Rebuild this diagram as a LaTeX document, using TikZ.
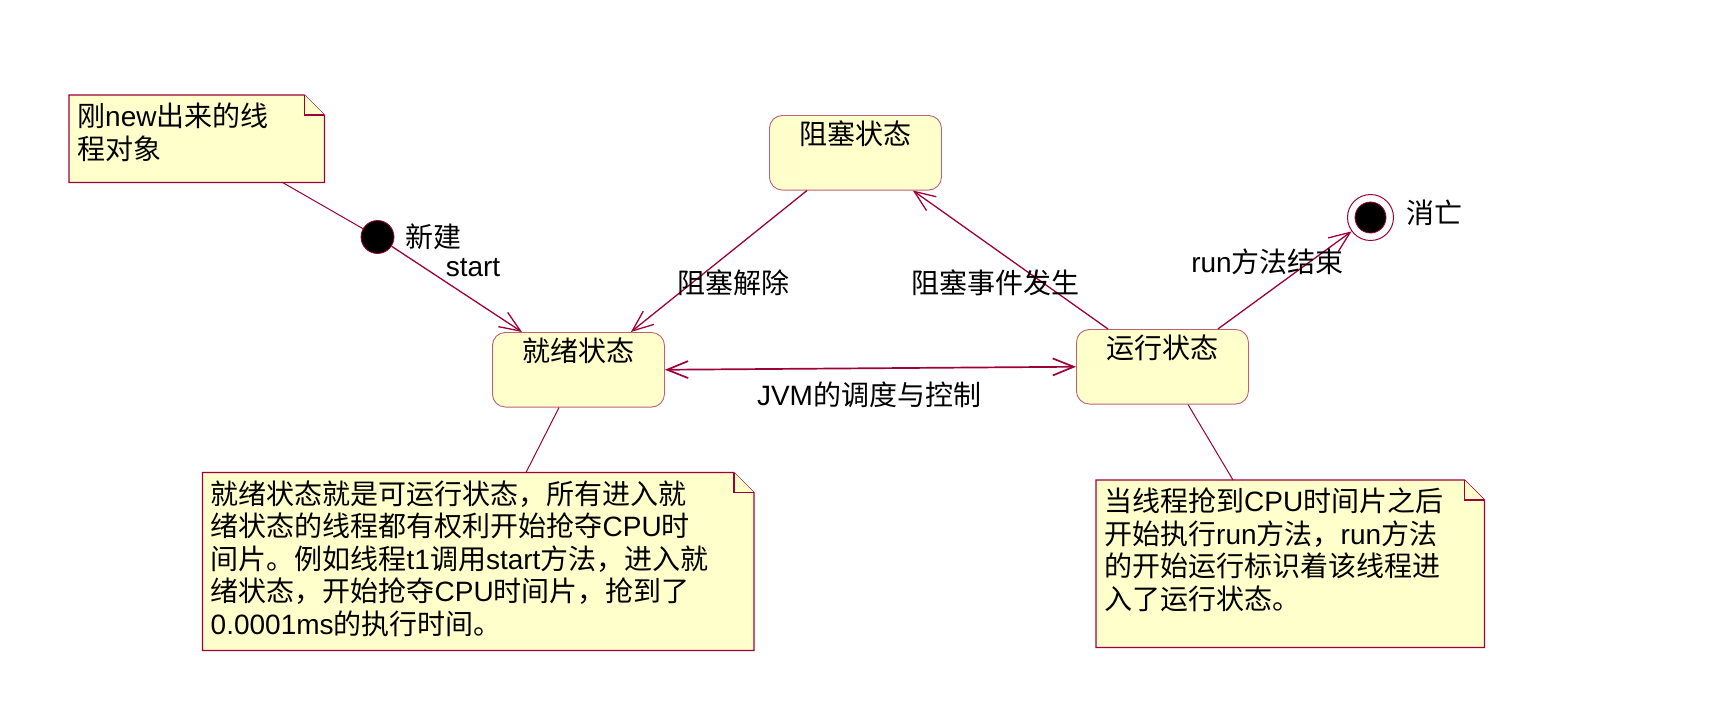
\documentclass[tikz,border=0pt]{standalone}
\usepackage{fontspec}
\setmainfont{Noto Sans CJK SC}
\newfontfamily\latinfont{Liberation Sans}
\usetikzlibrary{arrows.meta,positioning}

\definecolor{umlred}{RGB}{158,0,56}
\definecolor{boxedge}{RGB}{192,96,118}
\definecolor{umlfill}{RGB}{255,255,204}

\newcommand{\lat}[1]{{\latinfont #1}}

\tikzset{
  state/.style={draw=boxedge, fill=umlfill, rounded corners=13pt, line width=0.9pt,
    anchor=north west, minimum width=172pt, inner ysep=4pt,
    text height=24.6pt, text depth=42pt},
  notearea/.style={anchor=north west, inner sep=0pt},
  notebox/.style={draw=umlred, fill=umlfill, line width=1.2pt},
  notetext/.style={anchor=north west, align=left, inner sep=0pt,
    font=\fontsize{28}{32.5}\selectfont},
  lbl/.style={inner sep=0pt},
  trans/.style={draw=umlred, line width=1.3pt, ->},
  link/.style={draw=umlred, line width=1pt}
}

% note with a folded corner: name, x, y, width, height, text
\newcommand{\umlnote}[6]{%
  \node[notearea, minimum width=#4pt, minimum height=#5pt] (#1) at (#2,#3) {};
  \filldraw[notebox] (#1.north west) -- ([xshift=-20pt]#1.north east)
    -- ([yshift=-20pt]#1.north east) -- (#1.south east) -- (#1.south west) -- cycle;
  \draw[notebox] ([xshift=-20pt]#1.north east) |- ([yshift=-20pt]#1.north east);
  \node[notetext] (#1text) at ([shift={(8pt,-8pt)}]#1.north west) {#6};
}

\begin{document}
\begin{tikzpicture}[x=1pt, y=-1pt, >={Straight Barb[length=21pt,width=17pt]},
    font=\fontsize{28}{33}\selectfont]
  \useasboundingbox (0,0) rectangle (1720,702);

  % States
  \node[state] (ready) at (492,332) {就绪状态};
  \node[state] (blocked) at (769,115) {阻塞状态};
  \node[state] (running) at (1076,329) {运行状态};

  % Start and end
  \node[circle, fill=black, draw=umlred, line width=0.8pt, minimum size=33pt, inner sep=0pt]
    (init) at (377.5,237) {};
  \node[lbl, right=11pt of init] (newlbl) {新建};
  \node[circle, draw=umlred, line width=1pt, minimum size=46pt, inner sep=0pt]
    (final) at (1370.5,217.5) {};
  \node[circle, fill=black, draw=umlred, line width=0.8pt, minimum size=31pt, inner sep=0pt]
    (finaldot) at (final) {};
  \node[lbl, right=12pt of final, yshift=5pt] (deadlbl) {消亡};

  % Notes
  \umlnote{newnote}{69}{95}{255}{87}{刚\lat{new}出来的线\\程对象}
  \umlnote{readynote}{202.5}{472.5}{551}{177.5}{就绪状态就是可运行状态，所有进入就\\
    绪状态的线程都有权利开始抢夺\lat{CPU}时\\
    间片。例如线程\lat{t1}调用\lat{start}方法，进入就\\
    绪状态，开始抢夺\lat{CPU}时间片，抢到了\\
    \lat{0.0001ms}的执行时间。}
  \umlnote{runnote}{1096}{480}{388}{167}{当线程抢到\lat{CPU}时间片之后\\
    开始执行\lat{run}方法，\lat{run}方法\\
    的开始运行标识着该线程进\\
    入了运行状态。}

  % Note links
  \draw[link] ([xshift=-42pt]newnote.south east) -- (init);
  \draw[link] ([xshift=67pt]ready.south west) -- ([xshift=323.5pt]readynote.north west);
  \draw[link] ([xshift=112pt]running.south west) -- ([xshift=137pt]runnote.north west);

  % Transitions
  \draw[trans] (init) -- ([xshift=30pt]ready.north west);
  \draw[trans] ([xshift=38pt]blocked.south west) -- ([xshift=-34pt]ready.north east);
  \draw[trans] ([xshift=32pt]running.north west) -- ([xshift=-29pt]blocked.south east);
  \draw[trans, <->, line width=1.7pt] (ready.east) -- (running.west);
  \draw[trans] ([xshift=-31pt]running.north east) -- (final);

  % Labels
  \node[lbl] (startlbl) at (473,268) {\lat{start}};
  \node[lbl] (unblocklbl) at (733.7,283) {阻塞解除};
  \node[lbl] (blocklbl) at (995.3,283) {阻塞事件发生};
  \node[lbl] (runendlbl) at (1267.5,262) {\lat{run}方法结束};
  \node[lbl] (jvmlbl) at (869,395) {\lat{JVM}的调度与控制};
\end{tikzpicture}
\end{document}
